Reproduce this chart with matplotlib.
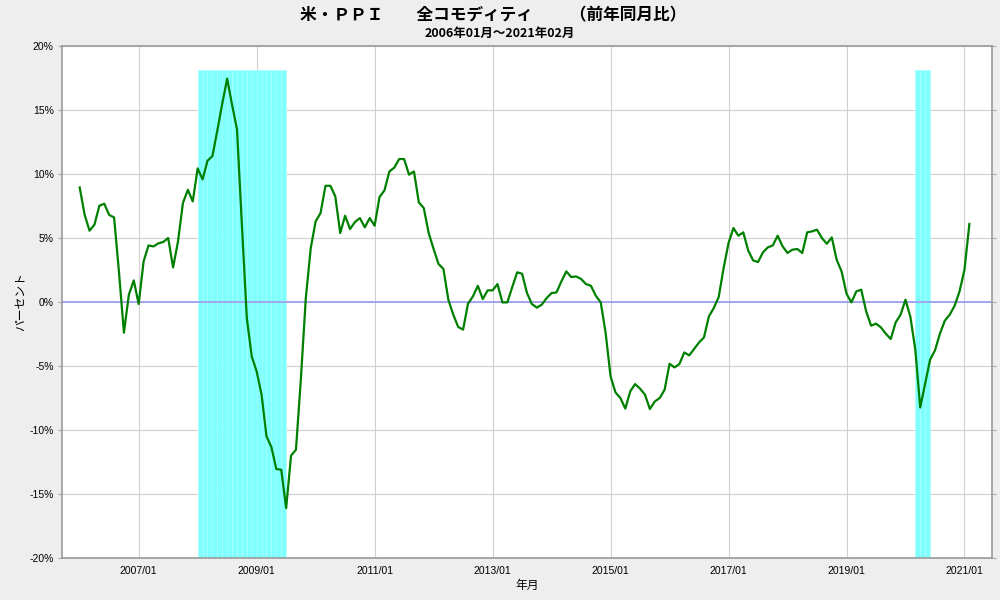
import numpy as np
import pandas as pd
import matplotlib
matplotlib.use("Agg")
import matplotlib.pyplot as plt

# US PPI all commodities, YoY %
start_month = "2006-01"
yoy_2006 = [8.95, 6.82, 5.57, 6.04, 7.52, 7.68, 6.80, 6.61, 2.30, -2.40, 0.57, 1.69]
yoy_2007 = [-0.16, 3.17, 4.42, 4.34, 4.58, 4.69, 5.00, 2.70, 4.73, 7.73, 8.77, 7.86]
yoy_2008 = [10.44, 9.58, 11.04, 11.40, 13.40, 15.50, 17.45, 15.40, 13.50, 6.00, -1.25, -4.25]
yoy_2009 = [-5.42, -7.24, -10.50, -11.33, -13.05, -13.10, -16.10, -12.00, -11.54, -6.00, 0.30, 4.20]
yoy_2010 = [6.30, 6.95, 9.08, 9.08, 8.25, 5.39, 6.74, 5.70, 6.25, 6.56, 5.83, 6.56]
yoy_2011 = [5.96, 8.20, 8.72, 10.20, 10.50, 11.17, 11.17, 9.95, 10.20, 7.78, 7.34, 5.39]
yoy_2012 = [4.14, 2.97, 2.58, 0.18, -0.99, -1.95, -2.16, -0.13, 0.44, 1.27, 0.23, 0.91]
yoy_2013 = [0.91, 1.40, -0.03, -0.03, 1.17, 2.32, 2.21, 0.70, -0.16, -0.44, -0.21, 0.31]
yoy_2014 = [0.70, 0.75, 1.61, 2.39, 1.95, 2.00, 1.80, 1.40, 1.27, 0.49, -0.03, -2.42]
yoy_2015 = [-5.81, -7.06, -7.50, -8.33, -6.98, -6.41, -6.77, -7.24, -8.36, -7.77, -7.50, -6.85]
yoy_2016 = [-4.82, -5.11, -4.85, -3.94, -4.17, -3.67, -3.16, -2.77, -1.13, -0.47, 0.39, 2.65]
yoy_2017 = [4.61, 5.78, 5.18, 5.44, 4.03, 3.25, 3.12, 3.88, 4.27, 4.42, 5.18, 4.35]
yoy_2018 = [3.83, 4.09, 4.14, 3.83, 5.44, 5.52, 5.65, 5.00, 4.55, 5.05, 3.30, 2.39]
yoy_2019 = [0.65, -0.03, 0.83, 0.96, -0.73, -1.85, -1.69, -1.98, -2.48, -2.89, -1.60, -0.99]
yoy_2020 = [0.18, -1.17, -3.73, -8.24, -6.38, -4.51, -3.78, -2.48, -1.46, -0.99, -0.29, 0.83]
yoy_2021 = [2.52, 6.10]

# recession shading (first month, last month)
recessions = [("2008-01", "2009-06"), ("2020-03", "2020-05")]
shade_top = 18.1

x_tick_labels = ["2007/01", "2009/01", "2011/01", "2013/01", "2015/01", "2017/01", "2019/01", "2021/01"]
y_ticks = [-20, -15, -10, -5, 0, 5, 10, 15, 20]

values = (yoy_2006 + yoy_2007 + yoy_2008 + yoy_2009 + yoy_2010 + yoy_2011 + yoy_2012
          + yoy_2013 + yoy_2014 + yoy_2015 + yoy_2016 + yoy_2017 + yoy_2018 + yoy_2019
          + yoy_2020 + yoy_2021)
months = pd.period_range(start_month, periods=len(values), freq="M")
x = np.arange(len(values))
first = pd.Period(start_month, freq="M")


def month_index(label):
    return (pd.Period(label.replace("/", "-"), freq="M") - first).n


jp = ["Noto Sans CJK JP", "DejaVu Sans"]
tickfont = ["Liberation Sans", "DejaVu Sans"]
plt.rcParams["font.family"] = jp

fig = plt.figure(figsize=(10, 6), dpi=100, facecolor="#eeeeee")
ax = fig.add_axes([0.062, 0.07, 0.93, 0.8533])
ax.set_facecolor("white")

# shaded recession months
for s, e in recessions:
    idx = np.arange(month_index(s), month_index(e) + 1)
    ax.bar(idx, shade_top + 20, bottom=-20, width=1, align="edge",
           color="#80ffff", edgecolor="#a6ffff", linewidth=0.4, zorder=1)

ax.axhline(0, color="#a0a0f0", lw=1.3, zorder=2)
ax.plot(x, values, color="#008000", lw=1.6, zorder=3)

ax.set_xlim(-3.6, 185.6)
ax.set_ylim(-20, 20)
ax.set_xticks([month_index(t) for t in x_tick_labels])
ax.set_xticklabels(x_tick_labels, family=tickfont, fontsize=7.5)
ax.set_yticks(y_ticks)
ax.set_yticklabels(["%d%%" % v for v in y_ticks], family=tickfont, fontsize=7.5)
ax.tick_params(axis="x", length=0, pad=6)
ax.tick_params(axis="y", length=3, color="#aaaaaa", pad=3, right=True)

ax.set_axisbelow(True)
ax.grid(True, color="#d0d0d0", lw=0.8)
for sp in ax.spines.values():
    sp.set_color("#999999")
    sp.set_linewidth(1.2)

fig.text(0.4935, 0.975, "米・ＰＰＩ　　全コモディティ　　 （前年同月比）",
         ha="center", va="center", fontsize=12, fontweight="bold")
fig.text(0.5, 0.945, "2006年01月～2021年02月",
         ha="center", va="center", fontsize=9, fontweight="bold")
fig.text(0.527, 1 - 585 / 600, "年月", ha="center", va="center", fontsize=8.5)
fig.text(0.02, 1 - 302 / 600, "パーセント", ha="center", va="center",
         rotation=90, fontsize=8.5)

fig.savefig("out.png", dpi=100, facecolor=fig.get_facecolor())
